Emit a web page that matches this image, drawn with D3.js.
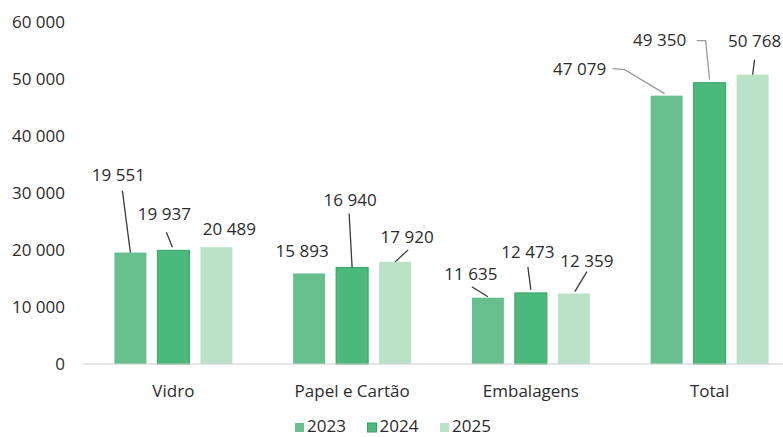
<!DOCTYPE html>
<html lang="pt">
<head>
    <meta charset="UTF-8">
    <title>Resíduos por fluxo</title>
    <script src="https://d3js.org/d3.v7.min.js"></script>
    <style>
        body {
            margin: 0;
            background: #ffffff;
        }
        svg text {
            font-family: "Open Sans", sans-serif;
            font-size: 17px;
            fill: #2b2b2b;
        }
        .leader {
            fill: none;
            stroke: #3a3a3a;
            stroke-width: 1.3px;
        }
        .leader.light {
            stroke: #9a9a9a;
        }
    </style>
</head>
<body>
    <div id="chart"></div>

    <script>
        // Data
        const categories = ["Vidro", "Papel e Cartão", "Embalagens", "Total"];
        const years = ["2023", "2024", "2025"];
        const values2023 = [19551, 15893, 11635, 47079];
        const values2024 = [19937, 16940, 12473, 49350];
        const values2025 = [20489, 17920, 12359, 50768];
        const yTicks = [0, 10000, 20000, 30000, 40000, 50000, 60000];

        const seriesValues = [values2023, values2024, values2025];
        const colors = ["#66bf8c", "#4cb97c", "#b9e2c6"];
        const strokes = ["none", "#35a064", "none"];

        // label placement relative to the bar top (label dx/dy, leader points)
        const labelLayout = {
            "Vidro|2023": { dx: -12, dy: -72, line: [[-8, -62], [0, 0]] },
            "Vidro|2024": { dx: -9, dy: -30, line: [[-7, -18], [-1, -3]] },
            "Vidro|2025": { dx: 13, dy: -12 },
            "Papel e Cartão|2023": { dx: -7, dy: -16 },
            "Papel e Cartão|2024": { dx: -2, dy: -61, line: [[-3, -54], [0, 0]] },
            "Papel e Cartão|2025": { dx: 12, dy: -19, line: [[13, -12], [0, 0]] },
            "Embalagens|2023": { dx: -17, dy: -18, line: [[-16, -11], [0, -1]] },
            "Embalagens|2024": { dx: -3, dy: -35, line: [[-3, -26], [0, -3]] },
            "Embalagens|2025": { dx: 13, dy: -27, line: [[13, -22], [1, -2]] },
            "Total|2023": { dx: -87, dy: -21, line: [[-54, -27], [-42, -26], [-2, -2]], light: true },
            "Total|2024": { dx: -50, dy: -37, line: [[-13, -42], [-4, -42], [0, -3]], light: true },
            "Total|2025": { dx: 2, dy: -28, line: [[2, -15], [0, 0]] }
        };

        const width = 783, height = 437;

        const svg = d3.select("#chart")
            .append("svg")
            .attr("width", width)
            .attr("height", height);

        const locale = d3.formatLocale({ decimal: ",", thousands: " ", grouping: [3], currency: ["", " €"] });
        const fmt = locale.format(",d");

        // Scales
        const x0 = d3.scaleBand()
            .domain(categories)
            .range([84, 799])
            .paddingInner(0.34)
            .paddingOuter(0.17);

        const x1 = d3.scaleBand()
            .domain(years)
            .range([0, x0.bandwidth()])
            .paddingInner(0.256);

        const y = d3.scaleLinear()
            .domain([0, 60000])
            .range([364, 22]);

        // Y axis labels
        const yAxis = svg.append("g")
            .attr("transform", "translate(65,0)")
            .call(d3.axisLeft(y).tickValues(yTicks).tickFormat(fmt).tickSize(0).tickPadding(0));
        yAxis.select(".domain").remove();
        yAxis.selectAll("text")
            .attr("fill", "#2b2b2b")
            .style("font-family", "\"Open Sans\", sans-serif")
            .style("font-size", "17px");

        // Bars
        const rows = [];
        categories.forEach((c, i) => {
            years.forEach((yr, j) => {
                rows.push({ category: c, year: yr, value: seriesValues[j][i], s: j });
            });
        });

        svg.append("g")
            .selectAll("rect")
            .data(rows)
            .enter()
            .append("rect")
            .attr("x", d => x0(d.category) + x1(d.year))
            .attr("y", d => y(d.value))
            .attr("width", x1.bandwidth())
            .attr("height", d => y(0) - y(d.value))
            .attr("fill", d => colors[d.s])
            .attr("stroke", d => strokes[d.s])
            .attr("stroke-width", 1);

        // Baseline
        svg.append("line")
            .attr("x1", 83)
            .attr("x2", width)
            .attr("y1", y(0))
            .attr("y2", y(0))
            .attr("stroke", "#cfcfcf")
            .attr("stroke-width", 1.2);

        // Data labels and leader lines
        const labels = svg.append("g");
        rows.forEach(d => {
            const cx = x0(d.category) + x1(d.year) + x1.bandwidth() / 2;
            const ty = y(d.value);
            const lay = labelLayout[d.category + "|" + d.year];
            if (lay.line) {
                labels.append("path")
                    .attr("class", lay.light ? "leader light" : "leader")
                    .attr("d", d3.line()(lay.line.map(p => [cx + p[0], ty + p[1]])));
            }
            labels.append("text")
                .attr("x", cx + lay.dx)
                .attr("y", ty + lay.dy)
                .attr("text-anchor", "middle")
                .text(fmt(d.value));
        });

        // Category labels
        svg.append("g")
            .selectAll("text")
            .data(categories)
            .enter()
            .append("text")
            .attr("x", d => x0(d) + x0.bandwidth() / 2)
            .attr("y", 397)
            .attr("text-anchor", "middle")
            .text(d => d);

        // Legend
        const legend = svg.append("g")
            .selectAll("g")
            .data(years)
            .enter()
            .append("g")
            .attr("transform", (d, i) => `translate(${295 + i * 72.5},0)`);

        legend.append("rect")
            .attr("x", 0)
            .attr("y", 423)
            .attr("width", 9)
            .attr("height", 9)
            .attr("fill", (d, i) => colors[i])
            .attr("stroke", (d, i) => strokes[i]);

        legend.append("text")
            .attr("x", 12)
            .attr("y", 432)
            .text(d => d);
    </script>
</body>
</html>
